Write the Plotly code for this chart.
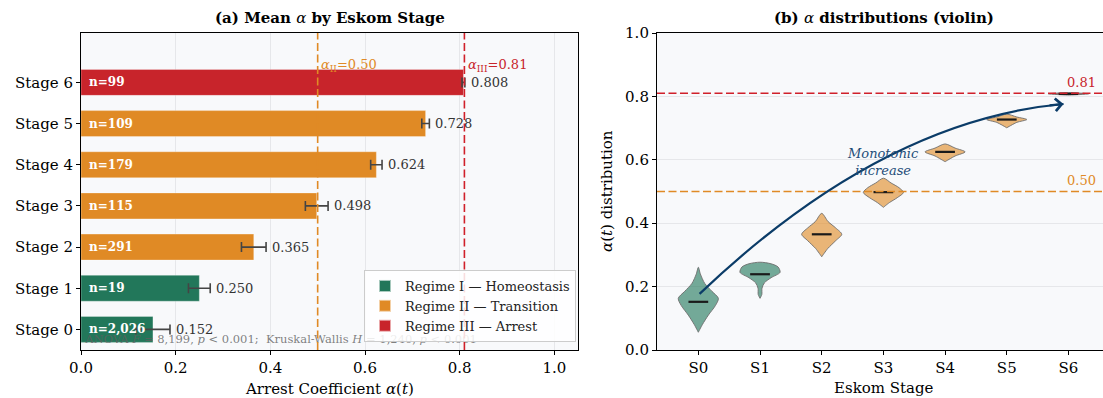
import plotly.graph_objects as go

# ---------------- data ----------------
stage_labels = ["Stage 0", "Stage 1", "Stage 2", "Stage 3", "Stage 4", "Stage 5", "Stage 6"]
stage_short = ["S0", "S1", "S2", "S3", "S4", "S5", "S6"]
stage_idx = [0, 1, 2, 3, 4, 5, 6]
mean_alpha = [0.152, 0.250, 0.365, 0.498, 0.624, 0.728, 0.808]
err_alpha = [0.036, 0.023, 0.026, 0.024, 0.012, 0.008, 0.003]
n_obs = [2026, 19, 291, 115, 179, 109, 99]
regime = [1, 1, 2, 2, 2, 2, 3]
regime_names = {1: "Regime I — Homeostasis", 2: "Regime II — Transition", 3: "Regime III — Arrest"}
regime_colors = {1: "#22775a", 2: "#e08a25", 3: "#c8242b"}
regime_fill = {1: "rgba(34,119,90,0.62)", 2: "rgba(224,138,37,0.62)", 3: "rgba(200,36,43,0.75)"}
thr_II = 0.50
thr_III = 0.81

# violin profiles: alpha levels and relative half-widths
violin_levels = [
    [0.261, 0.240, 0.210, 0.185, 0.163, 0.140, 0.110, 0.080, 0.056],
    [0.277, 0.272, 0.262, 0.245, 0.228, 0.212, 0.195, 0.175, 0.163],
    [0.431, 0.405, 0.385, 0.365, 0.345, 0.320, 0.294],
    [0.542, 0.527, 0.512, 0.497, 0.480, 0.465, 0.450],
    [0.650, 0.637, 0.625, 0.612, 0.594],
    [0.744, 0.735, 0.727, 0.718, 0.701],
    [0.812, 0.808, 0.804],
]
violin_widths = [
    [0.0, 0.10, 0.32, 0.68, 1.0, 0.85, 0.50, 0.20, 0.0],
    [0.0, 0.55, 0.90, 1.0, 0.55, 0.22, 0.10, 0.09, 0.0],
    [0.0, 0.32, 0.70, 1.0, 0.70, 0.30, 0.0],
    [0.0, 0.38, 0.78, 1.0, 0.68, 0.30, 0.0],
    [0.0, 0.50, 1.0, 0.50, 0.0],
    [0.0, 0.50, 1.0, 0.50, 0.0],
    [0.0, 1.0, 0.0],
]
violin_center_line = [0.152, 0.239, 0.365, 0.498, 0.625, 0.727, 0.808]

anova_text = ("ANOVA <i>F</i> = 8,199, <i>p</i> &lt; 0.001;  Kruskal-Wallis <i>H</i> = 1,240, "
              "<i>p</i> &lt; 0.001")

# ---------------- layout geometry ----------------
W, H = 1103, 398
FONT = "DejaVu Serif"
x1_dom = [81 / W, 578 / W]
x2_dom = [657 / W, 1.0]
y_dom = [(H - 350) / H, (H - 33) / H]
half_w = 0.325
DASH = "8px,3.5px"

fig = go.Figure()

# ---------------- left panel: bars ----------------
for r in [1, 2, 3]:
    ys = [i for i in stage_idx if regime[i] == r]
    fig.add_trace(go.Bar(
        x=[mean_alpha[i] for i in ys], y=ys, orientation="h",
        marker=dict(color=regime_colors[r], line=dict(color="rgba(255,255,255,0.6)", width=0.5)),
        width=0.63, name=regime_names[r],
        error_x=dict(type="data", array=[err_alpha[i] for i in ys], color="#444444",
                     thickness=1.6, width=5),
        xaxis="x", yaxis="y", showlegend=True, hoverinfo="skip",
    ))

# statistics note as a text trace (kept beneath the legend)
fig.add_trace(go.Scatter(
    x=[0.009], y=[-0.25], mode="text", text=[anova_text], textposition="middle right",
    textfont=dict(family=FONT, size=11.5, color="rgba(95,95,95,0.8)"),
    xaxis="x", yaxis="y", showlegend=False, hoverinfo="skip", cliponaxis=False,
))

# n labels and value labels
for i in stage_idx:
    fig.add_annotation(x=0.012, y=i, xref="x", yref="y", text=f"<b>n={n_obs[i]:,}</b>",
                       showarrow=False, xanchor="left", yanchor="middle",
                       font=dict(family=FONT, size=12, color="white"))
    fig.add_annotation(x=mean_alpha[i] + err_alpha[i] + 0.008, y=i, xref="x", yref="y",
                       text=f"{mean_alpha[i]:.3f}", showarrow=False, xanchor="left",
                       yanchor="middle", font=dict(family=FONT, size=13, color="#333333"))

# threshold lines
fig.add_shape(type="line", xref="x", yref="y domain", x0=thr_II, x1=thr_II, y0=0, y1=1,
              line=dict(color="#e08a25", width=1.6, dash=DASH))
fig.add_shape(type="line", xref="x", yref="y domain", x0=thr_III, x1=thr_III, y0=0, y1=1,
              line=dict(color="#d0202a", width=1.6, dash=DASH))
fig.add_annotation(x=thr_II + 0.003, y=6.4, xref="x", yref="y",
                   text=f"<i>α</i><sub>II</sub>={thr_II:.2f}", showarrow=False,
                   xanchor="left", yanchor="middle",
                   font=dict(family=FONT, size=13, color="#e08a25"))
fig.add_annotation(x=thr_III + 0.003, y=6.4, xref="x", yref="y",
                   text=f"<i>α</i><sub>III</sub>={thr_III:.2f}", showarrow=False,
                   xanchor="left", yanchor="middle",
                   font=dict(family=FONT, size=13, color="#c8242b"))

# ---------------- right panel: violins ----------------
fig.add_shape(type="line", xref="x2 domain", yref="y2", x0=0, x1=1, y0=thr_III, y1=thr_III,
              line=dict(color="#d0202a", width=1.6, dash=DASH))
fig.add_shape(type="line", xref="x2 domain", yref="y2", x0=0, x1=1, y0=thr_II, y1=thr_II,
              line=dict(color="#e08a25", width=1.6, dash=DASH))

for i in stage_idx:
    lv = violin_levels[i]
    wd = violin_widths[i]
    xs = [i + w * half_w for w in wd] + [i - w * half_w for w in reversed(wd)]
    ys = lv + list(reversed(lv))
    fig.add_trace(go.Scatter(
        x=xs, y=ys, mode="lines", fill="toself", fillcolor=regime_fill[regime[i]],
        line=dict(color="rgba(110,110,110,0.9)", width=1, shape="spline", smoothing=0.8),
        xaxis="x2", yaxis="y2", showlegend=False, hoverinfo="skip",
    ))
    fig.add_trace(go.Scatter(
        x=[i - 0.16, i + 0.16], y=[violin_center_line[i]] * 2, mode="lines",
        line=dict(color="#1a1a1a", width=2.2), xaxis="x2", yaxis="y2",
        showlegend=False, hoverinfo="skip",
    ))

fig.add_annotation(x=6.48, y=thr_III + 0.004, xref="x2", yref="y2", text=f"{thr_III:.2f}",
                   showarrow=False, xanchor="right", yanchor="bottom",
                   font=dict(family=FONT, size=13, color="#c8242b"))
fig.add_annotation(x=6.48, y=thr_II + 0.004, xref="x2", yref="y2", text=f"{thr_II:.2f}",
                   showarrow=False, xanchor="right", yanchor="bottom",
                   font=dict(family=FONT, size=13, color="#e08a25"))

# curved trend arrow
p0 = (0.02, 0.177)
p1 = (2.97, 0.724)
p2 = (5.92, 0.776)
fig.add_shape(type="path", xref="x2", yref="y2",
              path=f"M {p0[0]},{p0[1]} Q {p1[0]},{p1[1]} {p2[0]},{p2[1]}",
              line=dict(color="#0b3c68", width=2.2))
fig.add_annotation(x=p2[0], y=p2[1], ax=p2[0] - 0.25, ay=p2[1] - 0.0045,
                   xref="x2", yref="y2", axref="x2", ayref="y2", text="",
                   showarrow=True, arrowhead=4, arrowsize=1.1, arrowwidth=2.2,
                   arrowcolor="#0b3c68", standoff=0)
fig.add_annotation(x=3.0, y=0.594, xref="x2", yref="y2",
                   text="<i>Monotonic</i><br><i>increase</i>", showarrow=False,
                   xanchor="center", yanchor="middle",
                   font=dict(family=FONT, size=13, color="#1f4e79"))

# ---------------- titles ----------------
fig.add_annotation(x=(81 + 578) / 2 / W, y=(H - 18) / H, xref="paper", yref="paper",
                   text="<b>(a) Mean </b><i>α</i><b> by Eskom Stage</b>", showarrow=False,
                   xanchor="center", yanchor="middle",
                   font=dict(family=FONT, size=15, color="black"))
fig.add_annotation(x=884 / W, y=(H - 18) / H, xref="paper", yref="paper",
                   text="<b>(b) </b><i>α</i><b> distributions (violin)</b>", showarrow=False,
                   xanchor="center", yanchor="middle",
                   font=dict(family=FONT, size=15, color="black"))
fig.add_annotation(x=(81 + 578) / 2 / W, y=(H - 389) / H, xref="paper", yref="paper",
                   text="Arrest Coefficient <i>α</i>(<i>t</i>)", showarrow=False,
                   xanchor="center", yanchor="middle",
                   font=dict(family=FONT, size=15, color="black"))
fig.add_annotation(x=884 / W, y=(H - 388) / H, xref="paper", yref="paper",
                   text="Eskom Stage", showarrow=False, xanchor="center", yanchor="middle",
                   font=dict(family=FONT, size=15, color="black"))
fig.add_annotation(x=607 / W, y=(H - 191) / H, xref="paper", yref="paper",
                   text="<i>α</i>(<i>t</i>) distribution", showarrow=False, textangle=-90,
                   xanchor="center", yanchor="middle",
                   font=dict(family=FONT, size=15, color="black"))

# ---------------- axes ----------------
tickfont = dict(family=FONT, size=15, color="black")
common = dict(ticks="outside", ticklen=4, tickcolor="black", showline=True, linecolor="black",
              linewidth=1.1, zeroline=False, tickfont=tickfont, automargin=False)
fig.update_layout(
    template="none",
    width=W, height=H,
    margin=dict(l=0, r=0, t=0, b=0, pad=0, autoexpand=False),
    paper_bgcolor="white",
    plot_bgcolor="#f8f9fb",
    font=dict(family=FONT, size=13, color="black"),
    barmode="overlay",
    xaxis=dict(domain=x1_dom, anchor="y", range=[0, 1.05], tickvals=[0, 0.2, 0.4, 0.6, 0.8, 1.0],
               tickformat=".1f", mirror=True, showgrid=True, gridcolor="#e6e7ea", gridwidth=1,
               **common),
    yaxis=dict(domain=y_dom, anchor="x", range=[-0.5, 7.2], tickvals=stage_idx,
               ticktext=stage_labels, mirror=True, showgrid=False, **common),
    xaxis2=dict(domain=x2_dom, anchor="y2", range=[-0.67, 6.56], tickvals=stage_idx,
                ticktext=stage_short, mirror=True, showgrid=False, **common),
    yaxis2=dict(domain=y_dom, anchor="x2", range=[0, 1.0], tickvals=[0, 0.2, 0.4, 0.6, 0.8, 1.0],
                tickformat=".1f", mirror=False, showgrid=True, gridcolor="#e6e7ea", gridwidth=1,
                **common),
    legend=dict(x=576 / W, y=(H - 342) / H, xanchor="right", yanchor="bottom",
                bgcolor="rgba(255,255,255,0.85)", bordercolor="#cccccc", borderwidth=1,
                font=dict(family=FONT, size=13, color="#222222"), traceorder="normal",
                tracegroupgap=0, itemsizing="constant"),
    showlegend=True,
)

fig.write_html("out.html")
